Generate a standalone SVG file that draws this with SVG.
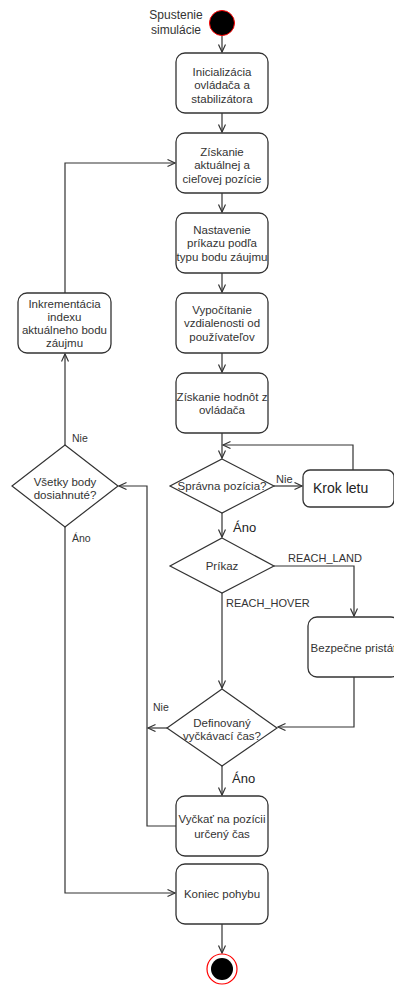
<svg xmlns="http://www.w3.org/2000/svg" width="394" height="985" viewBox="0 0 394 985">
<defs>
<style>
.box{fill:#fff;stroke:#333;stroke-width:1.3}
.dia{fill:#fff;stroke:#333;stroke-width:1.2}
.ln{fill:none;stroke:#333;stroke-width:1.2}
.t{font-family:"Liberation Sans",Arial,sans-serif;font-size:11.5px;fill:#333;text-anchor:middle}
.s{font-family:"Liberation Sans",Arial,sans-serif;font-size:10.5px;fill:#333}
.b{font-family:"Liberation Sans",Arial,sans-serif;font-size:13px;fill:#222}
</style>
<marker id="ar" markerWidth="10" markerHeight="10" refX="8" refY="4" orient="auto" markerUnits="userSpaceOnUse">
<path d="M0.5,0.5 L8,4 L0.5,7.5" fill="none" stroke="#333" stroke-width="1.2"/>
</marker>
</defs>
<rect width="394" height="985" fill="#fff"/>
<g id="connectors">
<path class="ln" d="M222,35.5 V52" marker-end="url(#ar)"/>
<path class="ln" d="M222,113 V132" marker-end="url(#ar)"/>
<path class="ln" d="M222,193 V212" marker-end="url(#ar)"/>
<path class="ln" d="M222,273 V292" marker-end="url(#ar)"/>
<path class="ln" d="M222,353 V372" marker-end="url(#ar)"/>
<path class="ln" d="M222,433 V458" marker-end="url(#ar)"/>
<path class="ln" d="M353,470 V445 H223" marker-end="url(#ar)"/>
<path class="ln" d="M274,486 H302" marker-end="url(#ar)"/>
<path class="ln" d="M222,513 V537" marker-end="url(#ar)"/>
<path class="ln" d="M274,566 H354 V616" marker-end="url(#ar)"/>
<path class="ln" d="M222,593 V688" marker-end="url(#ar)"/>
<path class="ln" d="M354,677 V727 H278" marker-end="url(#ar)"/>
<path class="ln" d="M167,728 H148" marker-end="url(#ar)"/>
<path class="ln" d="M176,826 H147 V486 H119" marker-end="url(#ar)"/>
<path class="ln" d="M222,766 V795" marker-end="url(#ar)"/>
<path class="ln" d="M222,924 V953" marker-end="url(#ar)"/>
<path class="ln" d="M65,445 V354" marker-end="url(#ar)"/>
<path class="ln" d="M65,293 V163 H175" marker-end="url(#ar)"/>
<path class="ln" d="M65,527 V893 H175" marker-end="url(#ar)"/>
<text class="s" x="276" y="483" style="font-size:11px">Nie</text>
<text class="b" x="233" y="532">Áno</text>
<text class="s" x="288" y="562" style="font-size:11px">REACH_LAND</text>
<text class="s" x="226" y="607" style="font-size:11px">REACH_HOVER</text>
<text class="s" x="153" y="711">Nie</text>
<text class="b" x="232" y="783">Áno</text>
<text class="s" x="72" y="442">Nie</text>
<text class="s" x="72" y="542">Áno</text>
</g>
<g id="start">
<circle cx="222" cy="23" r="12.5" fill="#000" stroke="#f00" stroke-width="1"/>
<text class="t" x="176" y="19" style="font-size:12px">Spustenie</text>
<text class="t" x="176" y="34" style="font-size:12px">simulácie</text>
</g>
<g id="init">
<rect class="box" x="176" y="53" width="92" height="60" rx="9"/>
<text class="t" x="222" y="76">Inicializácia</text>
<text class="t" x="222" y="89.3">ovládača a</text>
<text class="t" x="222" y="102.6">stabilizátora</text>
</g>
<g id="ziskanie">
<rect class="box" x="176" y="133" width="92" height="60" rx="9"/>
<text class="t" x="222" y="156">Získanie</text>
<text class="t" x="222" y="169.3">aktuálnej a</text>
<text class="t" x="222" y="182.6">cieľovej pozície</text>
</g>
<g id="nastavenie">
<rect class="box" x="176" y="213" width="92" height="60" rx="9"/>
<text class="t" x="222" y="234">Nastavenie</text>
<text class="t" x="222" y="247.3">príkazu podľa</text>
<text class="t" x="222" y="260.6">typu bodu záujmu</text>
</g>
<g id="vypocitanie">
<rect class="box" x="176" y="293" width="92" height="60" rx="9"/>
<text class="t" x="222" y="314">Vypočítanie</text>
<text class="t" x="222" y="327.3">vzdialenosti od</text>
<text class="t" x="222" y="340.6">používateľov</text>
</g>
<g id="hodnoty">
<rect class="box" x="176" y="373" width="92" height="60" rx="9"/>
<text class="t" x="222" y="400.5">Získanie hodnôt z</text>
<text class="t" x="222" y="413.8">ovládača</text>
</g>
<g id="spravna">
<polygon class="dia" points="222,459 274,486 222,513 170,486"/>
<text class="t" x="222" y="490">Správna pozícia?</text>
</g>
<g id="krok">
<rect class="box" x="303" y="470" width="91" height="37" rx="7"/>
<text class="b" x="313" y="493" style="font-size:14px">Krok letu</text>
</g>
<g id="prikaz">
<polygon class="dia" points="222,538 274,566 222,593 170,566"/>
<text class="t" x="222" y="570">Príkaz</text>
</g>
<g id="pristat">
<rect class="box" x="308" y="617" width="92" height="60" rx="9"/>
<text class="t" x="354" y="652">Bezpečne pristáť</text>
</g>
<g id="definovany">
<polygon class="dia" points="222,689 277,728 222,766 167,728"/>
<text class="t" x="222" y="727">Definovaný</text>
<text class="t" x="222" y="740.3">vyčkávací čas?</text>
</g>
<g id="vyckat">
<rect class="box" x="176" y="796" width="92" height="60" rx="9"/>
<text class="t" x="222" y="823">Vyčkať na pozícii</text>
<text class="t" x="222" y="837.5">určený čas</text>
</g>
<g id="koniec">
<rect class="box" x="176" y="864" width="92" height="60" rx="9"/>
<text class="t" x="222" y="898">Koniec pohybu</text>
</g>
<g id="vsetky">
<polygon class="dia" points="65,445 118,486 65,527 12,486"/>
<text class="t" x="65" y="485.5">Všetky body</text>
<text class="t" x="65" y="498.5">dosiahnuté?</text>
</g>
<g id="inkrementacia">
<rect class="box" x="18" y="293" width="93" height="60" rx="9"/>
<text class="t" x="64.5" y="307.5">Inkrementácia</text>
<text class="t" x="64.5" y="320.5">indexu</text>
<text class="t" x="64.5" y="333.5">aktuálneho bodu</text>
<text class="t" x="64.5" y="346.5">záujmu</text>
</g>
<g id="end">
<circle cx="222" cy="969" r="15" fill="#fff" stroke="#f00" stroke-width="1.2"/>
<circle cx="222" cy="969" r="11" fill="#000"/>
</g>
</svg>
